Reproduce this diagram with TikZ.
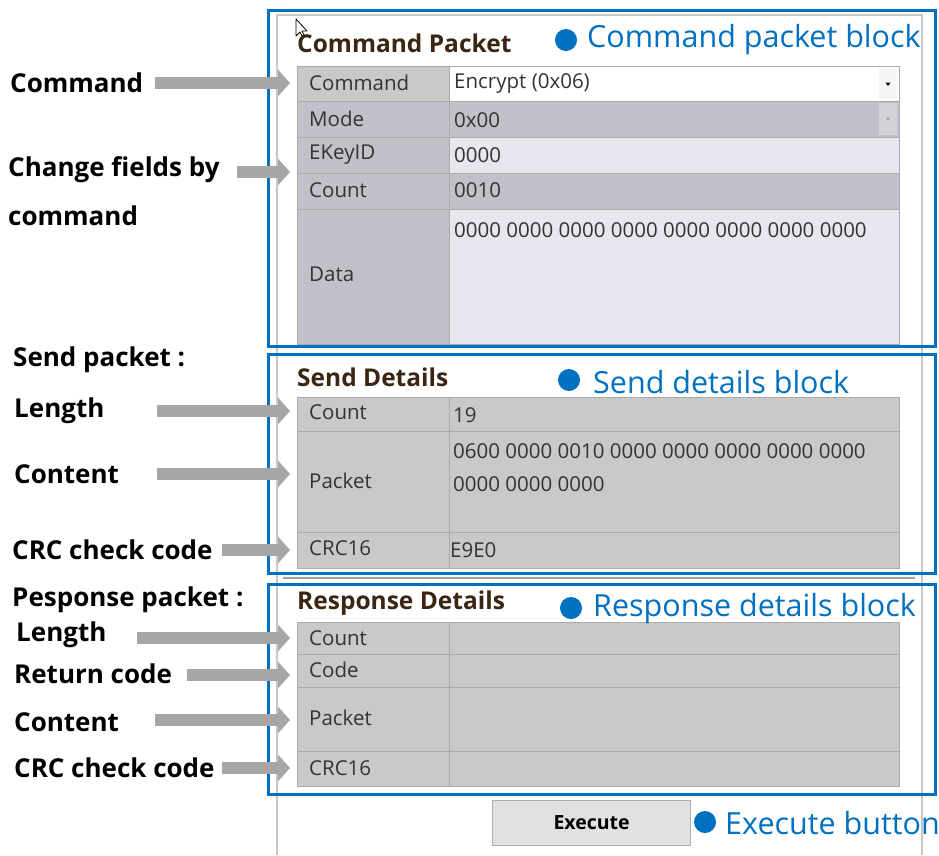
\documentclass[tikz,border=0pt]{standalone}
\usepackage{fontspec}
\setmainfont{Open Sans}
\usetikzlibrary{arrows.meta,calc}
\definecolor{bluec}{HTML}{0070C0}
\definecolor{arrg}{HTML}{A6A6A6}
\definecolor{frameg}{HTML}{C8C8C8}
\definecolor{sepg}{HTML}{A0A0A0}
\definecolor{cellg}{HTML}{C9C9C9}
\definecolor{cellp}{HTML}{C3C0C9}
\definecolor{celll}{HTML}{E9E6F0}
\definecolor{cellb}{HTML}{ABABAB}
\definecolor{titlec}{HTML}{3A2612}
\definecolor{txt}{HTML}{333333}
\definecolor{btnf}{HTML}{E1E1E1}
\definecolor{btnd}{HTML}{ADADAD}
% name, x1, y1, x2, y2, fill
\newcommand\mycell[6]{\node[cellbase,fill=#6,minimum width={(#4)-(#2)},minimum height={(#5)-(#3)}] (#1) at (#2,#3) {};}
\begin{document}
\begin{tikzpicture}[x=1pt,y=-1pt,
  cellbase/.style={rectangle,draw=cellb,line width=1pt,inner sep=0pt,outer sep=0pt,anchor=north west},
  ctext/.style={anchor=west,inner sep=0pt,text=txt,font=\fontsize{20.5}{24}\selectfont},
  ttl/.style={anchor=west,inner sep=0pt,text=titlec,font=\fontsize{24.5}{28}\selectfont\bfseries},
  lab/.style={anchor=west,inner sep=0pt,text=black,font=\fontsize{26}{30}\selectfont\bfseries},
  ann/.style={anchor=west,inner sep=0pt,text=bluec,font=\fontsize{30.5}{35}\selectfont},
  dot/.style={circle,fill=bluec,inner sep=0pt,minimum size=22pt},
  bluebox/.style={draw=bluec,line width=3pt},
  garrow/.style={draw=arrg,line width=12pt,-{Triangle[length=12pt 0 0,width=26pt 0 0]}},
  ]
\useasboundingbox (0,0) rectangle (939,855);
\fill[white] (0,0) rectangle (939,855);

% panel frame
\draw[frameg,line width=2pt] (277,855) -- (277,15) -- (922,15) -- (922,855);
\draw[sepg,line width=2.5pt] (283,578) -- (915,578);

% cursor
\draw[black,fill=white,line width=0.8pt,line join=round] (296,19) -- (296,36) -- (300,32) -- (303,38) -- (305,37) -- (302,31) -- (307,31) -- cycle;

% ===== Command packet =====
\node[ttl] (t1) at (297,43) {Command Packet};
\mycell{cmdL}{297}{66}{449}{101}{cellg}
\mycell{cmdV}{449}{66}{899}{101}{white}
\mycell{modeL}{297}{101}{449}{137}{cellp}
\mycell{modeV}{449}{101}{899}{137}{cellp}
\mycell{ekL}{297}{137}{449}{173}{cellp}
\mycell{ekV}{449}{137}{899}{173}{celll}
\mycell{cntL}{297}{173}{449}{209}{cellp}
\mycell{cntV}{449}{173}{899}{209}{cellp}
\mycell{dataL}{297}{209}{449}{344}{cellp}
\mycell{dataV}{449}{209}{899}{344}{celll}
\fill[white!96!black] (879,68) rectangle (897,99);
\fill[black] (885.5,82.5) -- (890.5,82.5) -- (888,86) -- cycle;
\fill[cellp!70!white] (879,103) rectangle (897,135);
\fill[black!35] (885.5,117.5) -- (890.5,117.5) -- (888,121) -- cycle;

\node[ctext] (x1) at (309,83) {Command};
\node[ctext] (x2) at (454,84) {Encrypt (0x06)};
\node[ctext] (x3) at (309,119) {Mode};
\node[ctext] (x4) at (454,120) {0x00};
\node[ctext] (x5) at (309,155) {EKeyID};
\node[ctext] (x6) at (454,155) {0000};
\node[ctext] (x7) at (309,190) {Count};
\node[ctext] (x8) at (454,190) {0010};
\node[ctext] (x9) at (309,274) {Data};
\node[ctext] (x10) at (454,230) {0000 0000 0000 0000 0000 0000 0000 0000};

% ===== Send details =====
\node[ttl] (t2) at (297,377) {Send Details};
\mycell{sCntL}{297}{397}{449}{431}{cellg}
\mycell{sCntV}{449}{397}{899}{431}{cellg}
\mycell{sPkL}{297}{431}{449}{532}{cellg}
\mycell{sPkV}{449}{431}{899}{532}{cellg}
\mycell{sCrcL}{297}{532}{449}{568}{cellg}
\mycell{sCrcV}{449}{532}{899}{568}{cellg}
\node[ctext] (y1) at (309,412) {Count};
\node[ctext] (y2) at (453,415) {19};
\node[ctext] (y3) at (309,481) {Packet};
\node[ctext] (y4) at (453,451) {0600 0000 0010 0000 0000 0000 0000 0000};
\node[ctext] (y5) at (453,484) {0000 0000 0000};
\node[ctext] (y6) at (309,548) {CRC16};
\node[ctext] (y7) at (450,550) {E9E0};

% ===== Response details =====
\node[ttl] (t3) at (297,603) {Response Details};
\mycell{rCntL}{297}{622}{449}{654}{cellg}
\mycell{rCntV}{449}{622}{899}{654}{cellg}
\mycell{rCodeL}{297}{654}{449}{687}{cellg}
\mycell{rCodeV}{449}{654}{899}{687}{cellg}
\mycell{rPkL}{297}{687}{449}{751}{cellg}
\mycell{rPkV}{449}{687}{899}{751}{cellg}
\mycell{rCrcL}{297}{751}{449}{786}{cellg}
\mycell{rCrcV}{449}{751}{899}{786}{cellg}
\node[ctext] (z1) at (309,638) {Count};
\node[ctext] (z2) at (309,670) {Code};
\node[ctext] (z3) at (309,718) {Packet};
\node[ctext] (z4) at (309,768) {CRC16};

% execute button
\node[draw=btnd,fill=btnf,line width=1.2pt,anchor=north west,minimum width=198pt,minimum height=45pt,inner sep=0pt,
      font=\fontsize{19.5}{22}\selectfont\bfseries,text=black] (exec) at (492,800) {Execute};

% blue boxes
\draw[bluebox] (268,10) rectangle (935,346);
\draw[bluebox] (268,354) rectangle (935,573);
\draw[bluebox] (268,584) rectangle (935,794);

% blue annotations
\node[dot] (d1) at (566,40) {};
\node[ann] (a1) at (587,40) {Command packet block};
\node[dot] (d2) at (569,380) {};
\node[ann] (a2) at (593,382) {Send details block};
\node[dot] (d3) at (571,608) {};
\node[ann] (a3) at (593,609) {Response details block};
\node[dot] (d4) at (705,822) {};
\node[ann] (a4) at (725,823) {Execute button};

% left labels
\node[lab] (l1) at (10,83) {Command};
\node[lab] (l2) at (8,170) {Change fields by};
\node[lab] (l3) at (8,216) {command};
\node[lab] (l4) at (13,360) {Send packet :};
\node[lab] (l5) at (14,411) {Length};
\node[lab] (l6) at (14,474) {Content};
\node[lab] (l7) at (12,550) {CRC check code};
\node[lab] (l8) at (12,600) {Pesponse packet :};
\node[lab] (l9) at (16,635) {Length};
\node[lab] (l10) at (14,674) {Return code};
\node[lab] (l11) at (14,722) {Content};
\node[lab] (l12) at (14,768) {CRC check code};

% arrow start points
\coordinate (s1) at (155,83);
\coordinate (s2) at (237,172);
\coordinate (s3) at (157,411);
\coordinate (s4) at (157,474);
\coordinate (s5) at (222,550);
\coordinate (s6) at (137,638);
\coordinate (s7) at (187,675);
\coordinate (s8) at (155,720);
\coordinate (s9) at (222,768);

\draw[garrow] (s1) -- (s1 -| {$(cmdL.west)+(-7,0)$});
\draw[garrow] (s2) -- (s2 -| {$(ekL.west)+(-7,0)$});
\draw[garrow] (s3) -- (s3 -| {$(sCntL.west)+(-7,0)$});
\draw[garrow] (s4) -- (s4 -| {$(sPkL.west)+(-7,0)$});
\draw[garrow] (s5) -- (s5 -| {$(sCrcL.west)+(-7,0)$});
\draw[garrow] (s6) -- (s6 -| {$(rCntL.west)+(-7,0)$});
\draw[garrow] (s7) -- (s7 -| {$(rCodeL.west)+(-7,0)$});
\draw[garrow] (s8) -- (s8 -| {$(rPkL.west)+(-7,0)$});
\draw[garrow] (s9) -- (s9 -| {$(rCrcL.west)+(-7,0)$});
\end{tikzpicture}
\end{document}
